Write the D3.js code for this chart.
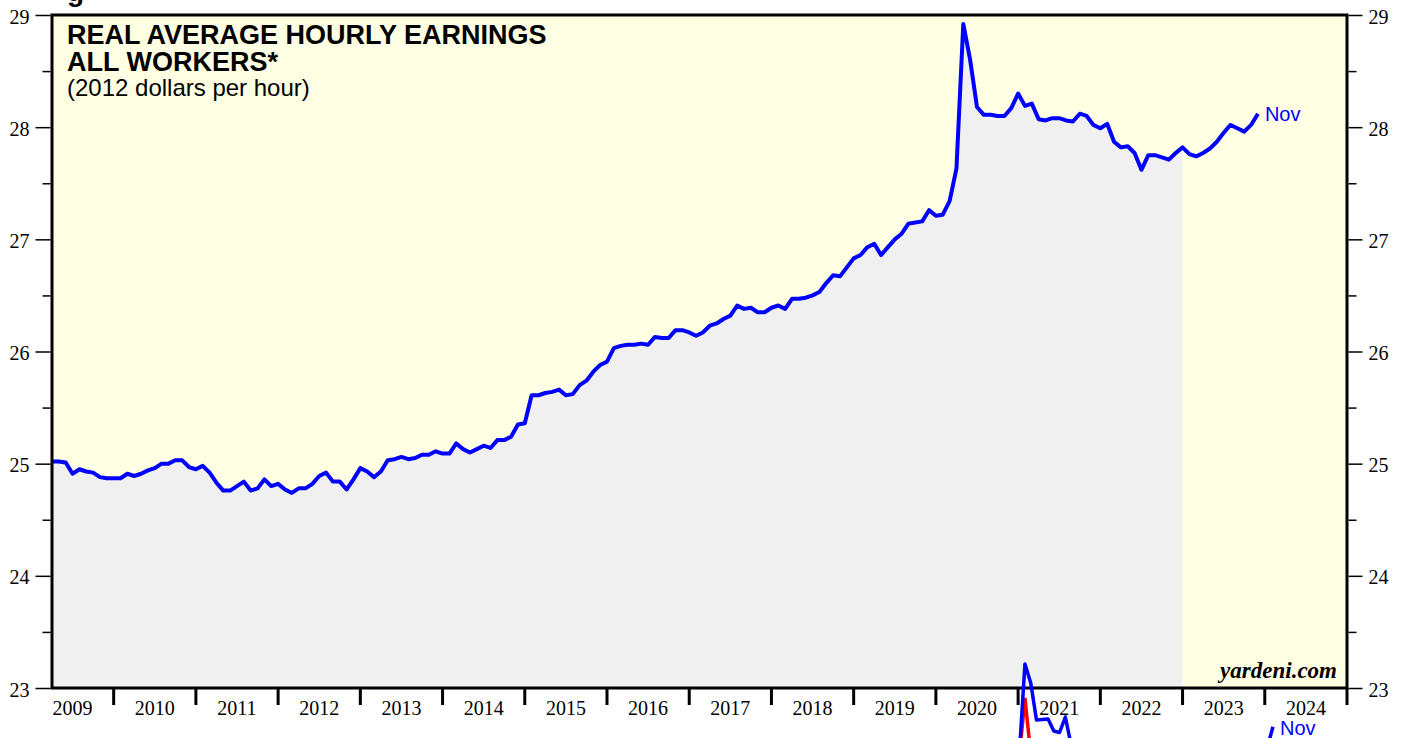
<!DOCTYPE html>
<html>
<head>
<meta charset="utf-8">
<script src="https://cdn.jsdelivr.net/npm/d3@7"></script>
<style>
  body { margin: 0; background: #fff; }
  svg { display: block; }
  .tick-label { font-family: "Liberation Serif", "Times New Roman", serif; font-size: 20px; fill: #000; }
  .title { font-family: "Liberation Sans", Arial, sans-serif; font-weight: bold; font-size: 27px; fill: #000; }
  .subtitle { font-family: "Liberation Sans", Arial, sans-serif; font-size: 24px; fill: #000; }
</style>
</head>
<body>
<div id="chart"></div>
<script>
var svgWidth = 1407;
var svgHeight = 738;

var margin = { top: 15, right: 60, bottom: 50, left: 52 };
var width = 1347 - margin.left;
var height = 688 - margin.top;

// monthly series, first point = March 2009 (plotted at month end)
var startYear = 2009;
var startMonth = 3;
var earnings = [
  25.02, 25.02, 25.01, 24.91, 24.95, 24.93, 24.92, 24.88, 24.87, 24.87,
  24.87, 24.91, 24.89, 24.91, 24.94, 24.96, 25.00, 25.00, 25.03, 25.03, 24.97, 24.95,
  24.98, 24.92, 24.83, 24.76, 24.76, 24.80, 24.84, 24.76, 24.78, 24.86, 24.80, 24.82,
  24.77, 24.74, 24.78, 24.78, 24.82, 24.89, 24.92, 24.84, 24.84, 24.77, 24.86, 24.96,
  24.93, 24.88, 24.93, 25.03, 25.04, 25.06, 25.04, 25.05, 25.08, 25.08, 25.11, 25.09,
  25.09, 25.18, 25.13, 25.10, 25.13, 25.16, 25.14, 25.21, 25.21, 25.24, 25.35, 25.36,
  25.61, 25.61, 25.63, 25.64, 25.66, 25.61, 25.62, 25.70, 25.74, 25.82, 25.88, 25.91,
  26.03, 26.05, 26.06, 26.06, 26.07, 26.06, 26.13, 26.12, 26.12, 26.19, 26.19, 26.17,
  26.14, 26.17, 26.23, 26.25, 26.29, 26.32, 26.41, 26.38, 26.39, 26.35, 26.35, 26.39,
  26.41, 26.38, 26.47, 26.47, 26.48, 26.50, 26.53, 26.61, 26.68, 26.67, 26.75, 26.83,
  26.86, 26.93, 26.96, 26.86, 26.93, 27.00, 27.05, 27.14, 27.15, 27.16, 27.26, 27.21,
  27.22, 27.34, 27.63, 28.92, 28.60, 28.18, 28.11, 28.11, 28.10, 28.10, 28.17, 28.30,
  28.19, 28.21, 28.07, 28.06, 28.08, 28.08, 28.06, 28.05, 28.12, 28.10, 28.02, 27.99,
  28.03, 27.87, 27.82, 27.83, 27.77, 27.62, 27.75, 27.75, 27.73, 27.71, 27.77, 27.82,
  27.76, 27.74, 27.77, 27.81, 27.87, 27.95, 28.02, 27.99, 27.96, 28.02, 28.12
];
// shaded area runs through Dec 2022
var shadeEnd = 2023;

var yearLabels = ["2009", "2010", "2011", "2012", "2013", "2014", "2015", "2016",
  "2017", "2018", "2019", "2020", "2021", "2022", "2023", "2024"];
var yMajor = [23, 24, 25, 26, 27, 28, 29];
var yMinor = [23.5, 24.5, 25.5, 26.5, 27.5, 28.5];

// top of the next chart peeking in at the bottom of the picture
var lowerBlueDates = [2020.167, 2020.25, 2020.333, 2020.417, 2020.5, 2020.583, 2020.667, 2020.75, 2020.833, 2020.917, 2021.0];
var lowerBlue = [-2, 0.4, 9.6, 7.7, 4.0, 4.05, 4.1, 2.9, 2.75, 4.3, 1.5];
var lowerRedDates = [2020.25, 2020.333, 2020.417];
var lowerRed = [0.2, 6.2, 0.6];
var lowerTailDates = [2023.833, 2023.917];
var lowerTail = [1.2, 3.33];

var series = earnings.map(function(v, i) {
  var m = startMonth - 1 + i;
  return { t: startYear + Math.floor(m / 12) + (m % 12 + 1) / 12, v: v };
});

var svg = d3.select("#chart")
  .append("svg")
  .attr("width", svgWidth)
  .attr("height", svgHeight);

var xScale = d3.scaleLinear().domain([2009.25, 2025]).range([margin.left, margin.left + width]);
var yScale = d3.scaleLinear().domain([23, 29]).range([margin.top + height, margin.top]);

// plot background
svg.append("rect")
  .attr("x", xScale(2009.25))
  .attr("y", yScale(29))
  .attr("width", xScale(2025) - xScale(2009.25))
  .attr("height", yScale(23) - yScale(29))
  .attr("fill", "#ffffe4");

// gray area under the line
var area = d3.area()
  .x(d => xScale(d.t))
  .y0(yScale(23))
  .y1(d => yScale(d.v));

svg.append("path")
  .datum(series.filter(d => d.t <= shadeEnd + 0.001))
  .attr("d", area)
  .attr("fill", "#f0f0f0");

// earnings line
var line = d3.line()
  .x(d => xScale(d.t))
  .y(d => yScale(d.v));

svg.append("path")
  .datum(series)
  .attr("d", line)
  .attr("fill", "none")
  .attr("stroke", "#0000ff")
  .attr("stroke-width", 4)
  .attr("stroke-linejoin", "round");

var last = series[series.length - 1];
svg.append("text")
  .attr("x", xScale(last.t) + 7)
  .attr("y", yScale(last.v) + 7)
  .style("font-family", "Liberation Sans, Arial, sans-serif")
  .style("font-size", "20px")
  .attr("fill", "#0000ff")
  .text("Nov");

// y axes, left and right
var leftAxis = d3.axisLeft(yScale).tickValues(yMajor).tickSize(15).tickPadding(6).tickFormat(d3.format("d"));
var rightAxis = d3.axisRight(yScale).tickValues(yMajor).tickSize(14).tickPadding(6).tickFormat(d3.format("d"));

[["left", leftAxis, xScale(2009.25) - 1.5, d3.axisLeft], ["right", rightAxis, xScale(2025) + 1.5, d3.axisRight]].forEach(function(a) {
  var g = svg.append("g")
    .attr("transform", `translate(${a[2]}, 0)`)
    .call(a[1]);
  g.select(".domain").remove();
  g.selectAll(".tick line").attr("stroke", "#000").attr("stroke-width", 1.5);
  g.selectAll(".tick text").attr("class", "tick-label").attr("dy", "0.4em");
  var minor = svg.append("g")
    .attr("transform", `translate(${a[2]}, 0)`)
    .call(a[3](yScale).tickValues(yMinor).tickSize(8).tickFormat(""));
  minor.select(".domain").remove();
  minor.selectAll(".tick line").attr("stroke", "#000").attr("stroke-width", 1.5);
});

// x axis: year boundary ticks, labels mid-year
var xTicks = d3.range(2010, 2026);
svg.append("g")
  .selectAll("line")
  .data(xTicks)
  .enter()
  .append("line")
  .attr("x1", d => xScale(d))
  .attr("x2", d => xScale(d))
  .attr("y1", yScale(23))
  .attr("y2", yScale(23) + 17)
  .attr("stroke", "#000")
  .attr("stroke-width", 3);

svg.append("g")
  .selectAll("text")
  .data(yearLabels)
  .enter()
  .append("text")
  .attr("class", "tick-label")
  .attr("x", d => xScale(+d + 0.5))
  .attr("y", yScale(23) + 27)
  .attr("text-anchor", "middle")
  .text(d => d);

// frame
svg.append("rect")
  .attr("x", xScale(2009.25))
  .attr("y", yScale(29))
  .attr("width", xScale(2025) - xScale(2009.25))
  .attr("height", yScale(23) - yScale(29))
  .attr("fill", "none")
  .attr("stroke", "#000")
  .attr("stroke-width", 3);

// titles
svg.append("text").attr("class", "title").attr("x", 67).attr("y", 44).text("REAL AVERAGE HOURLY EARNINGS");
svg.append("text").attr("class", "title").attr("x", 67).attr("y", 71).text("ALL WORKERS*");
svg.append("text").attr("class", "subtitle").attr("x", 67).attr("y", 96).text("(2012 dollars per hour)");

// leftover of the heading above
svg.append("text")
  .attr("class", "title")
  .attr("x", 67)
  .attr("y", 0.5)
  .style("font-size", "28px")
  .text("g");

svg.append("text")
  .attr("x", xScale(2025) - 10)
  .attr("y", yScale(23) - 10)
  .attr("text-anchor", "end")
  .style("font-family", "Liberation Serif, Times New Roman, serif")
  .style("font-weight", "bold")
  .style("font-style", "italic")
  .style("font-size", "23px")
  .text("yardeni.com");

// fragment of the lower chart
var xLow = d3.scaleLinear().domain([2020, 2024]).range([1001.9, 1278.7]);
var yLow = d3.scaleLinear().domain([0, 10]).range([760, 660]);
var lowLine = d3.line().x(d => xLow(d[0])).y(d => yLow(d[1]));

svg.append("path")
  .datum(d3.zip(lowerRedDates, lowerRed))
  .attr("d", lowLine)
  .attr("fill", "none")
  .attr("stroke", "#ff0000")
  .attr("stroke-width", 3.5);

[d3.zip(lowerBlueDates, lowerBlue), d3.zip(lowerTailDates, lowerTail)].forEach(function(pts) {
  svg.append("path")
    .datum(pts)
    .attr("d", lowLine)
    .attr("fill", "none")
    .attr("stroke", "#0000ff")
    .attr("stroke-width", 3.5)
    .attr("stroke-linejoin", "round");
});

svg.append("text")
  .attr("x", xLow(lowerTailDates[1]) + 7)
  .attr("y", 735)
  .style("font-family", "Liberation Sans, Arial, sans-serif")
  .style("font-size", "20px")
  .attr("fill", "#0000ff")
  .text("Nov");
</script>
</body>
</html>
